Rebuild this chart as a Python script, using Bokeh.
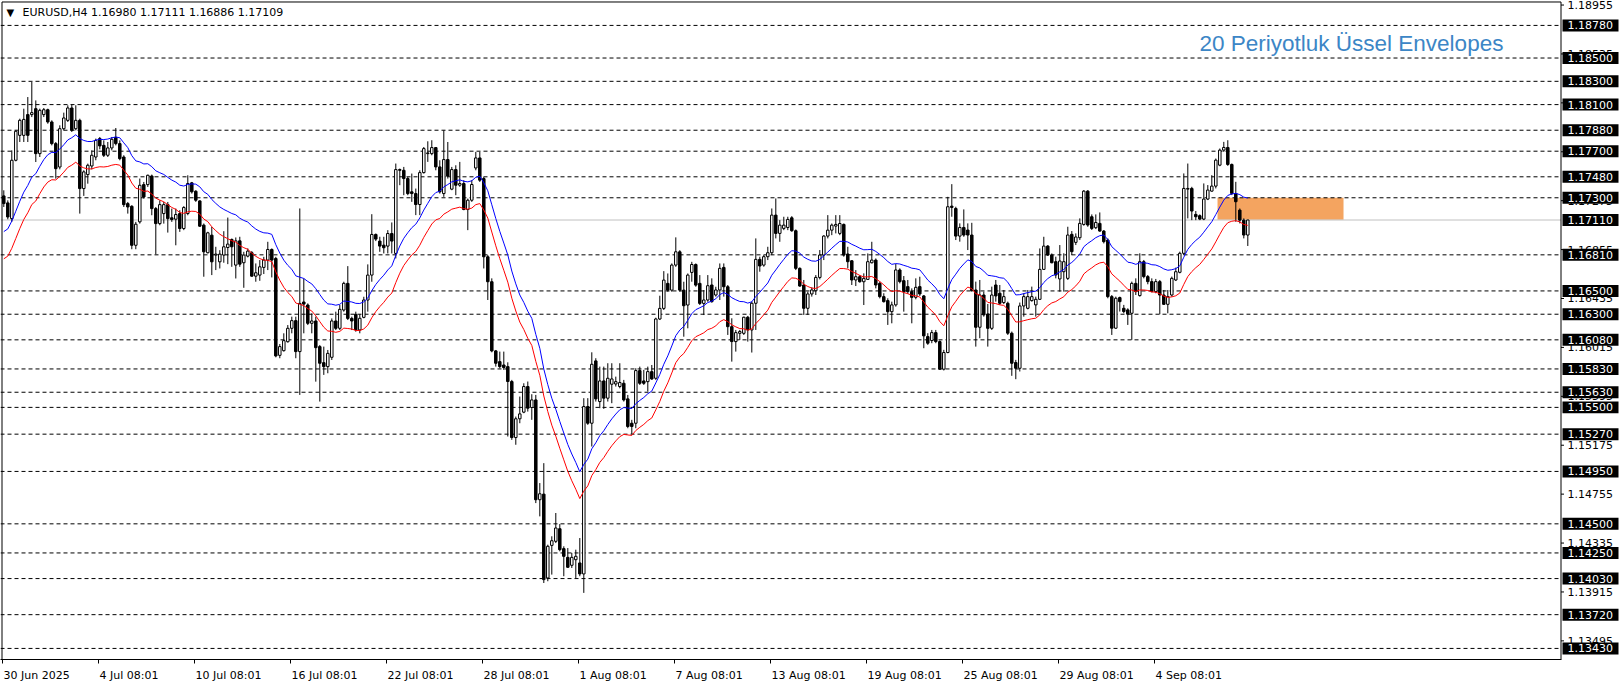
from bokeh.plotting import figure
from bokeh.models import Range1d, LinearAxis, FixedTicker, Label
from bokeh.core.properties import value
from bokeh.embed import file_html
from bokeh.resources import INLINE

# ---------------- data ----------------
symbol = "EURUSD,H4"
header_ohlc = "1.16980 1.17111 1.16886 1.17109"
title_text = "20 Periyotluk Üssel Envelopes"

opens = [
 1.17316, 1.17256, 1.17121, 1.17622, 1.17836, 1.17836, 1.18014, 1.18014, 1.18065, 1.17679,
 1.18014, 1.18056, 1.17951, 1.17765, 1.17564, 1.17893, 1.17965, 1.18071, 1.17893, 1.17965,
 1.17379, 1.17499, 1.17573, 1.17650, 1.17808, 1.17750, 1.17665, 1.17728, 1.17819, 1.17765,
 1.17650, 1.17250, 1.17227, 1.16892, 1.17093, 1.17413, 1.17413, 1.17487, 1.17207, 1.17078,
 1.17164, 1.17241, 1.17128, 1.17116, 1.17164, 1.17036, 1.17165, 1.17428, 1.17356, 1.17273,
 1.17065, 1.16828, 1.16979, 1.16808, 1.16750, 1.16808, 1.16873, 1.16942, 1.16722, 1.16930,
 1.16742, 1.16799, 1.16828, 1.16627, 1.16636, 1.16702, 1.16765, 1.16856, 1.16779, 1.15947,
 1.15987, 1.16064, 1.16179, 1.16245, 1.15979, 1.16405, 1.16379, 1.16222, 1.16242, 1.16022,
 1.15884, 1.15850, 1.15930, 1.16242, 1.16179, 1.16336, 1.16565, 1.16264, 1.16299, 1.16165,
 1.16273, 1.16422, 1.16636, 1.16985, 1.16928, 1.16893, 1.16885, 1.16993, 1.16822, 1.17542,
 1.17536, 1.17465, 1.17351, 1.17336, 1.17242, 1.17516, 1.17679, 1.17679, 1.17731, 1.17565,
 1.17336, 1.17628, 1.17374, 1.17542, 1.17408, 1.17422, 1.17199, 1.17279, 1.17556, 1.17642,
 1.17465, 1.16793, 1.16579, 1.15985, 1.15893, 1.15864, 1.15850, 1.15722, 1.15241, 1.15402,
 1.15459, 1.15679, 1.15499, 1.15564, 1.14707, 1.14755, 1.14035, 1.14315, 1.14350, 1.14458,
 1.14287, 1.14212, 1.14144, 1.14192, 1.14164, 1.14070, 1.15507, 1.15364, 1.15899, 1.15550,
 1.15727, 1.15579, 1.15699, 1.15701, 1.15679, 1.15707, 1.15573, 1.15364, 1.15364, 1.15816,
 1.15727, 1.15721, 1.15807, 1.15750, 1.16259, 1.16350, 1.16565, 1.16507, 1.16722, 1.16836,
 1.16507, 1.16379, 1.16659, 1.16727, 1.16565, 1.16393, 1.16422, 1.16551, 1.16465, 1.16508,
 1.16702, 1.16536, 1.16193, 1.16065, 1.16136, 1.16136, 1.16274, 1.16165, 1.16394, 1.16771,
 1.16722, 1.16794, 1.16828, 1.17151, 1.16994, 1.17037, 1.17045, 1.17128, 1.17017, 1.16694,
 1.16551, 1.16351, 1.16474, 1.16502, 1.16616, 1.16808, 1.16971, 1.17022, 1.17057, 1.16994,
 1.17071, 1.16817, 1.16759, 1.16594, 1.16622, 1.16579, 1.16599, 1.16742, 1.16765, 1.16565,
 1.16451, 1.16417, 1.16322, 1.16380, 1.16680, 1.16588, 1.16537, 1.16494, 1.16445, 1.16537,
 1.16457, 1.16108, 1.16074, 1.16142, 1.16065, 1.15828, 1.15971, 1.17228, 1.17208, 1.16971,
 1.17045, 1.17023, 1.16980, 1.16508, 1.16188, 1.16465, 1.16302, 1.16179, 1.16551, 1.16480,
 1.16400, 1.16394, 1.16137, 1.15885, 1.15836, 1.16371, 1.16351, 1.16417, 1.16380, 1.16428,
 1.16685, 1.16885, 1.16808, 1.16751, 1.16603, 1.16665, 1.16608, 1.16986, 1.16917, 1.16957,
 1.17071, 1.17357, 1.17137, 1.17043, 1.17080, 1.17014, 1.16937, 1.16451, 1.16180, 1.16443,
 1.16351, 1.16337, 1.16308, 1.16565, 1.16460, 1.16751, 1.16623, 1.16580, 1.16494, 1.16580,
 1.16465, 1.16385, 1.16465, 1.16594, 1.16660, 1.16823, 1.17374, 1.17380, 1.17157, 1.17146,
 1.17117, 1.17289, 1.17357, 1.17400, 1.17580, 1.17709, 1.17732, 1.17586, 1.17337, 1.17194,
 1.17108, 1.16980,
]

highs = [
 1.17364, 1.17278, 1.17707, 1.17879, 1.17979, 1.18065, 1.18165, 1.18294, 1.18136, 1.18065,
 1.18071, 1.18065, 1.17965, 1.17779, 1.17922, 1.18031, 1.18094, 1.18099, 1.18094, 1.17979,
 1.17536, 1.17593, 1.17707, 1.17808, 1.17822, 1.17793, 1.17779, 1.17822, 1.17899, 1.17793,
 1.17665, 1.17264, 1.17236, 1.17093, 1.17465, 1.17436, 1.17499, 1.17499, 1.17221, 1.17278,
 1.17264, 1.17264, 1.17207, 1.17207, 1.17193, 1.17228, 1.17493, 1.17436, 1.17365, 1.17279,
 1.17079, 1.17008, 1.17050, 1.16879, 1.16850, 1.17013, 1.17130, 1.16950, 1.16959, 1.16965,
 1.16836, 1.16865, 1.16842, 1.16736, 1.16765, 1.16793, 1.16922, 1.16865, 1.16793, 1.16044,
 1.16136, 1.16207, 1.16279, 1.16279, 1.17208, 1.16607, 1.16393, 1.16307, 1.16279, 1.16036,
 1.16022, 1.15993, 1.16264, 1.16322, 1.16379, 1.16579, 1.16713, 1.16279, 1.16322, 1.16299,
 1.16450, 1.16728, 1.17159, 1.16993, 1.16965, 1.16965, 1.17022, 1.17088, 1.17594, 1.17551,
 1.17565, 1.17479, 1.17508, 1.17379, 1.17536, 1.17736, 1.17785, 1.17794, 1.17736, 1.17622,
 1.17879, 1.17779, 1.17565, 1.17579, 1.17608, 1.17451, 1.17293, 1.17451, 1.17694, 1.17694,
 1.17479, 1.16808, 1.16608, 1.15993, 1.15979, 1.15979, 1.15887, 1.15736, 1.15421, 1.15593,
 1.15707, 1.15722, 1.15613, 1.15607, 1.14850, 1.15021, 1.14321, 1.14393, 1.14593, 1.14498,
 1.14307, 1.14292, 1.14250, 1.14278, 1.14378, 1.15579, 1.15579, 1.15973, 1.15922, 1.15850,
 1.15850, 1.15879, 1.15879, 1.15764, 1.15879, 1.15736, 1.15607, 1.15393, 1.15836, 1.15850,
 1.15822, 1.15850, 1.15864, 1.16270, 1.16459, 1.16670, 1.16650, 1.16736, 1.16960, 1.16850,
 1.16579, 1.16650, 1.16750, 1.16736, 1.16636, 1.16507, 1.16636, 1.16608, 1.16536, 1.16736,
 1.16736, 1.16551, 1.16265, 1.16165, 1.16165, 1.16279, 1.16285, 1.16408, 1.16951, 1.16794,
 1.16808, 1.16879, 1.17208, 1.17294, 1.17108, 1.17137, 1.17137, 1.17142, 1.17028, 1.16702,
 1.16594, 1.16494, 1.16531, 1.16636, 1.16851, 1.16979, 1.17151, 1.17079, 1.17151, 1.17151,
 1.17079, 1.16879, 1.16765, 1.16679, 1.16636, 1.16651, 1.16822, 1.16922, 1.16779, 1.16580,
 1.16480, 1.16437, 1.16408, 1.16731, 1.16694, 1.16628, 1.16594, 1.16522, 1.16608, 1.16622,
 1.16465, 1.16137, 1.16165, 1.16165, 1.16074, 1.15994, 1.17308, 1.17417, 1.17223, 1.17080,
 1.17200, 1.17080, 1.17085, 1.16580, 1.16594, 1.16494, 1.16388, 1.16537, 1.16594, 1.16551,
 1.16508, 1.16408, 1.16151, 1.15908, 1.16400, 1.16480, 1.16508, 1.16537, 1.16451, 1.16865,
 1.16965, 1.16894, 1.16822, 1.16794, 1.16894, 1.16823, 1.17051, 1.17014, 1.16994, 1.17123,
 1.17366, 1.17366, 1.17157, 1.17157, 1.17174, 1.17023, 1.16951, 1.16465, 1.16451, 1.16451,
 1.16380, 1.16351, 1.16580, 1.16608, 1.16823, 1.16766, 1.16637, 1.16608, 1.16603, 1.16594,
 1.16508, 1.16508, 1.16623, 1.16700, 1.16837, 1.17509, 1.17594, 1.17394, 1.17186, 1.17157,
 1.17423, 1.17409, 1.17494, 1.17637, 1.17723, 1.17780, 1.17794, 1.17594, 1.17437, 1.17208,
 1.17123, 1.17111,
]

lows = [
 1.17221, 1.17115, 1.17093, 1.17613, 1.17779, 1.17779, 1.17779, 1.17993, 1.17607, 1.17650,
 1.17993, 1.17936, 1.17750, 1.17464, 1.17544, 1.17879, 1.17951, 1.17865, 1.17879, 1.17164,
 1.17316, 1.17421, 1.17544, 1.17622, 1.17716, 1.17650, 1.17650, 1.17707, 1.17750, 1.17622,
 1.17221, 1.17164, 1.16858, 1.16858, 1.17078, 1.17293, 1.17393, 1.17150, 1.16815, 1.17064,
 1.17078, 1.17001, 1.17093, 1.16892, 1.17007, 1.17022, 1.17150, 1.17336, 1.17265, 1.17050,
 1.16622, 1.16822, 1.16636, 1.16679, 1.16693, 1.16742, 1.16730, 1.16707, 1.16607, 1.16707,
 1.16527, 1.16788, 1.16622, 1.16579, 1.16587, 1.16645, 1.16679, 1.16616, 1.15930, 1.15922,
 1.15979, 1.16056, 1.16136, 1.15922, 1.15607, 1.16136, 1.16207, 1.16136, 1.15721, 1.15550,
 1.15779, 1.15793, 1.15907, 1.16164, 1.16164, 1.16322, 1.16250, 1.16164, 1.16150, 1.16136,
 1.16265, 1.16322, 1.16579, 1.16928, 1.16836, 1.16822, 1.16822, 1.16822, 1.16779, 1.17408,
 1.17322, 1.17322, 1.17265, 1.17151, 1.17151, 1.17508, 1.17608, 1.17665, 1.17536, 1.17336,
 1.17308, 1.17465, 1.17365, 1.17322, 1.17394, 1.17193, 1.17022, 1.17265, 1.17536, 1.17436,
 1.16693, 1.16422, 1.15973, 1.15850, 1.15836, 1.15822, 1.15250, 1.15221, 1.15179, 1.15364,
 1.15450, 1.15464, 1.15393, 1.14678, 1.14564, 1.13992, 1.14007, 1.14064, 1.14335, 1.14264,
 1.14050, 1.14121, 1.14121, 1.14035, 1.14050, 1.13907, 1.15350, 1.15164, 1.15550, 1.15493,
 1.15487, 1.15550, 1.15536, 1.15679, 1.15664, 1.15550, 1.15321, 1.15270, 1.15321, 1.15693,
 1.15693, 1.15636, 1.15736, 1.15736, 1.16250, 1.16336, 1.16493, 1.16493, 1.16707, 1.16493,
 1.16107, 1.16179, 1.16579, 1.16536, 1.16379, 1.16293, 1.16407, 1.16399, 1.16451, 1.16422,
 1.16451, 1.16122, 1.15893, 1.15979, 1.16079, 1.16122, 1.16065, 1.15971, 1.16165, 1.16665,
 1.16708, 1.16765, 1.16808, 1.16951, 1.16922, 1.17022, 1.17022, 1.17008, 1.16679, 1.16536,
 1.16294, 1.16294, 1.16451, 1.16465, 1.16599, 1.16765, 1.16951, 1.16979, 1.16994, 1.16979,
 1.16794, 1.16694, 1.16551, 1.16542, 1.16571, 1.16379, 1.16594, 1.16736, 1.16522, 1.16436,
 1.16400, 1.16208, 1.16222, 1.16365, 1.16565, 1.16322, 1.16474, 1.16222, 1.16428, 1.16457,
 1.16008, 1.16037, 1.16051, 1.16051, 1.15822, 1.15817, 1.15965, 1.17137, 1.16937, 1.16923,
 1.16965, 1.16851, 1.16494, 1.16022, 1.16094, 1.16279, 1.16022, 1.16165, 1.16408, 1.16380,
 1.16388, 1.16122, 1.15771, 1.15742, 1.15808, 1.16279, 1.16342, 1.16408, 1.16279, 1.16422,
 1.16680, 1.16800, 1.16737, 1.16608, 1.16494, 1.16494, 1.16594, 1.16808, 1.16894, 1.16937,
 1.17060, 1.17051, 1.17023, 1.17031, 1.17008, 1.16908, 1.16437, 1.16122, 1.16174, 1.16323,
 1.16308, 1.16208, 1.16080, 1.16465, 1.16451, 1.16608, 1.16557, 1.16488, 1.16480, 1.16300,
 1.16380, 1.16308, 1.16451, 1.16585, 1.16651, 1.16808, 1.17123, 1.17108, 1.17108, 1.17108,
 1.17108, 1.17280, 1.17351, 1.17380, 1.17571, 1.17694, 1.17574, 1.17323, 1.17094, 1.17080,
 1.16951, 1.16886,
]

closes = [
 1.17250, 1.17135, 1.17622, 1.17871, 1.17965, 1.17973, 1.17836, 1.18031, 1.17679, 1.18051,
 1.18056, 1.17951, 1.17765, 1.17550, 1.17893, 1.17985, 1.18071, 1.17879, 1.17965, 1.17379,
 1.17522, 1.17579, 1.17665, 1.17793, 1.17745, 1.17665, 1.17728, 1.17802, 1.17765, 1.17636,
 1.17241, 1.17221, 1.16892, 1.17073, 1.17407, 1.17307, 1.17493, 1.17207, 1.17078, 1.17241,
 1.17241, 1.17121, 1.17113, 1.17156, 1.17036, 1.17216, 1.17422, 1.17351, 1.17279, 1.17056,
 1.16836, 1.16999, 1.16750, 1.16816, 1.16816, 1.16879, 1.16902, 1.16879, 1.16930, 1.16730,
 1.16808, 1.16842, 1.16627, 1.16656, 1.16707, 1.16765, 1.16856, 1.16765, 1.15942, 1.16022,
 1.16073, 1.16179, 1.16245, 1.15979, 1.16393, 1.16387, 1.16222, 1.16242, 1.16013, 1.15879,
 1.15850, 1.15964, 1.16242, 1.16179, 1.16342, 1.16565, 1.16264, 1.16242, 1.16165, 1.16265,
 1.16422, 1.16636, 1.16985, 1.16945, 1.16885, 1.16871, 1.16993, 1.16928, 1.17542, 1.17536,
 1.17465, 1.17336, 1.17336, 1.17242, 1.17516, 1.17722, 1.17685, 1.17731, 1.17565, 1.17351,
 1.17628, 1.17485, 1.17542, 1.17408, 1.17422, 1.17199, 1.17279, 1.17414, 1.17642, 1.17451,
 1.16793, 1.16579, 1.15985, 1.15879, 1.15850, 1.15842, 1.15722, 1.15241, 1.15402, 1.15444,
 1.15679, 1.15493, 1.15564, 1.14707, 1.14758, 1.14021, 1.14307, 1.14355, 1.14464, 1.14278,
 1.14221, 1.14127, 1.14212, 1.14221, 1.14070, 1.15507, 1.15364, 1.15870, 1.15573, 1.15727,
 1.15579, 1.15750, 1.15744, 1.15721, 1.15713, 1.15564, 1.15336, 1.15336, 1.15816, 1.15707,
 1.15707, 1.15807, 1.15744, 1.16259, 1.16350, 1.16593, 1.16507, 1.16722, 1.16836, 1.16507,
 1.16373, 1.16636, 1.16727, 1.16550, 1.16393, 1.16422, 1.16545, 1.16408, 1.16508, 1.16694,
 1.16536, 1.16193, 1.16065, 1.16142, 1.16151, 1.16274, 1.16165, 1.16394, 1.16771, 1.16714,
 1.16794, 1.16828, 1.17151, 1.16994, 1.17065, 1.17065, 1.17114, 1.17017, 1.16694, 1.16542,
 1.16351, 1.16474, 1.16508, 1.16616, 1.16808, 1.16971, 1.17022, 1.17065, 1.17071, 1.17079,
 1.16808, 1.16751, 1.16594, 1.16622, 1.16579, 1.16608, 1.16751, 1.16765, 1.16551, 1.16451,
 1.16408, 1.16322, 1.16380, 1.16680, 1.16580, 1.16494, 1.16494, 1.16445, 1.16531, 1.16474,
 1.16114, 1.16051, 1.16142, 1.16065, 1.15828, 1.15971, 1.17223, 1.17217, 1.16971, 1.17045,
 1.16980, 1.16980, 1.16502, 1.16188, 1.16465, 1.16294, 1.16179, 1.16465, 1.16457, 1.16394,
 1.16451, 1.16137, 1.15879, 1.15836, 1.16371, 1.16451, 1.16451, 1.16451, 1.16428, 1.16685,
 1.16885, 1.16808, 1.16742, 1.16637, 1.16757, 1.16751, 1.16980, 1.16837, 1.16963, 1.17080,
 1.17357, 1.17066, 1.17037, 1.17088, 1.17014, 1.16923, 1.16451, 1.16180, 1.16437, 1.16408,
 1.16323, 1.16300, 1.16565, 1.16494, 1.16751, 1.16623, 1.16580, 1.16494, 1.16580, 1.16465,
 1.16385, 1.16451, 1.16608, 1.16665, 1.16823, 1.17380, 1.17380, 1.17186, 1.17137, 1.17117,
 1.17289, 1.17366, 1.17400, 1.17623, 1.17709, 1.17732, 1.17586, 1.17337, 1.17266, 1.17108,
 1.16980, 1.17109,
]

# horizontal levels drawn by the user (boxed on the price scale)
level_prices = [1.18780, 1.18500, 1.18300, 1.18100, 1.17880, 1.17700, 1.17480, 1.17300,
                1.17110, 1.16810, 1.16500, 1.16300, 1.16080, 1.15830, 1.15630, 1.15500,
                1.15270, 1.14950, 1.14500, 1.14250, 1.14030, 1.13720, 1.13430]
# automatic price-scale ticks
scale_ticks = [1.18955, 1.18535, 1.18115, 1.17695, 1.17275, 1.16855, 1.16435, 1.16015,
               1.15595, 1.15175, 1.14755, 1.14335, 1.13915, 1.13495]
bid_price = 1.17109

date_labels = ["30 Jun 2025", "4 Jul 08:01", "10 Jul 08:01", "16 Jul 08:01", "22 Jul 08:01",
               "28 Jul 08:01", "1 Aug 08:01", "7 Aug 08:01", "13 Aug 08:01", "19 Aug 08:01",
               "25 Aug 08:01", "29 Aug 08:01", "4 Sep 08:01"]
date_bars = [0, 24, 48, 72, 96, 120, 144, 168, 192, 216, 240, 264, 288]

zone_bars = [303.43, 334.93]
zone_prices = [1.17112, 1.17300]

# envelope indicator settings (EMA 20, 0.10 %), value of the EMA before the first bar
ema_period = 20
env_dev_pct = 0.10
ema_start = 1.16855

# ---------------- layout ----------------
W, H = 1624, 684
BB = 24                      # bottom border for the time scale
FRAME_W, FRAME_H = W, H - BB
PX_PER_BAR = 4.0
X0 = -0.825
X1 = X0 + FRAME_W / PX_PER_BAR
Y1 = 1.18994
Y0 = 1.13335
KX = FRAME_W / (X1 - X0)
KY = FRAME_H / (Y1 - Y0)
CHART_RIGHT = 1560.5         # pixel of the chart's right border (price scale to its right)


def xd(px):  # canvas x pixel -> data x
    return X0 + px / KX


def yd(py):  # canvas y pixel -> data y
    return Y1 - py / KY


FONT = "DejaVu Sans"
XR = xd(CHART_RIGHT)

p = figure(width=W, height=H, output_backend="svg", toolbar_location=None, tools="",
           x_range=Range1d(X0, X1), y_range=Range1d(Y0, Y1),
           x_axis_location=None, y_axis_location=None,
           min_border_left=0, min_border_top=0, min_border_right=0, min_border_bottom=BB,
           background_fill_color="white", border_fill_color="white",
           outline_line_color=None)
p.grid.visible = False

# zone rectangle (background object)
p.quad(left=[zone_bars[0]], right=[zone_bars[1]], bottom=[zone_prices[0]], top=[zone_prices[1]],
       fill_color="#F4A460", line_color=None)

# dashed levels
dash_levels = [lv for lv in level_prices if abs(lv - bid_price) > 0.00005]
p.segment(x0=[X0] * len(dash_levels), x1=[XR] * len(dash_levels), y0=dash_levels, y1=dash_levels,
          line_color="black", line_width=1, line_dash="4 3")
# bid line
p.segment(x0=[X0], x1=[XR], y0=[bid_price], y1=[bid_price], line_color="#C0C0C0", line_width=1)

# candles
n = len(closes)
idx = list(range(n))
p.segment(x0=idx, x1=idx, y0=lows, y1=highs, line_color="black", line_width=1)
up = [i for i in idx if closes[i] >= opens[i]]
dn = [i for i in idx if closes[i] < opens[i]]
p.vbar(x=up, width=0.62, top=[closes[i] for i in up], bottom=[opens[i] for i in up],
       fill_color="white", line_color="black", line_width=1)
p.vbar(x=dn, width=0.62, top=[opens[i] for i in dn], bottom=[closes[i] for i in dn],
       fill_color="black", line_color="black", line_width=1)

# envelopes (EMA of close)
alpha = 2.0 / (ema_period + 1)
ema = []
e = ema_start
for c in closes:
    e = e + alpha * (c - e)
    ema.append(e)
upper = [v * (1 + env_dev_pct / 100.0) for v in ema]
lower = [v * (1 - env_dev_pct / 100.0) for v in ema]
p.line(idx, upper, line_color="#0000FF", line_width=1)
p.line(idx, lower, line_color="#FF0000", line_width=1)

# chart frame lines (left, top, right)
p.segment(x0=[xd(1.5), xd(1.5), XR], y0=[yd(1.5), yd(1.5), yd(1.5)],
          x1=[xd(1.5), XR, XR], y1=[Y0, yd(1.5), Y0], line_color="black", line_width=1)

# price scale (right of the chart): ticks, labels and boxed level labels
nt = len(scale_ticks)
p.segment(x0=[XR] * nt, x1=[xd(CHART_RIGHT + 3)] * nt, y0=scale_ticks, y1=scale_ticks,
          line_color="black", line_width=1)
p.text(x=[xd(1567)] * nt, y=scale_ticks, text=["%.5f" % t for t in scale_ticks],
       text_font=value(FONT), text_font_size=value("11px"), text_color="black",
       text_baseline="middle", text_align="left")
nl = len(level_prices)
half_box = 6.0 / KY
p.quad(left=[xd(1562)] * nl, right=[xd(1618)] * nl,
       bottom=[lv - half_box for lv in level_prices], top=[lv + half_box for lv in level_prices],
       fill_color="black", line_color=None)
p.text(x=[xd(1567)] * nl, y=level_prices, text=["%.5f" % lv for lv in level_prices],
       text_font=value(FONT), text_font_size=value("11px"), text_color="white",
       text_baseline="middle", text_align="left")

# time scale: labels start at their tick (tick marks drawn as minor ticks)
CW = {"0": 7.0, "1": 7.0, "2": 7.0, "3": 7.0, "4": 7.0, "5": 7.0, "6": 7.0, "7": 7.0, "8": 7.0,
      "9": 7.0, " ": 3.5, ":": 3.7, "J": 3.2, "u": 7.0, "l": 3.1, "n": 7.0, "A": 7.5, "g": 7.0,
      "S": 7.0, "e": 6.8, "p": 7.0}


def text_w(s):
    return sum(CW.get(ch, 7.0) for ch in s)


tick_pos = [round(b - 0.325, 3) for b in date_bars]
label_pos = [round(t + (text_w(s) / 2.0 + 1.0) / KX, 3) for t, s in zip(tick_pos, date_labels)]
ax = LinearAxis(ticker=FixedTicker(ticks=label_pos, minor_ticks=tick_pos),
                major_label_overrides={lp: s for lp, s in zip(label_pos, date_labels)},
                bounds=(X0, XR),
                major_tick_out=0, major_tick_in=0, minor_tick_out=4, minor_tick_in=0,
                minor_tick_line_color="black", major_label_standoff=5,
                axis_line_color="black",
                major_label_text_font=FONT, major_label_text_font_size="11px",
                major_label_text_color="black")
p.add_layout(ax, "below")

# header
p.add_layout(Label(x=xd(6), y=yd(12.5), text="▼", text_font=FONT, text_font_size="10px",
                   text_baseline="middle", text_align="left", text_color="black"))
p.add_layout(Label(x=xd(22), y=yd(12.5), text=symbol + "  " + header_ohlc, text_font=FONT,
                   text_font_size="11px", text_baseline="middle", text_align="left",
                   text_color="black"))
# indicator title
p.add_layout(Label(x=xd(1199), y=yd(43.5), text=title_text, text_font="Liberation Sans",
                   text_font_size="22.5px", text_baseline="middle", text_align="left",
                   text_color="#3C86C6"))

open("out.html", "w").write(file_html(p, INLINE))
